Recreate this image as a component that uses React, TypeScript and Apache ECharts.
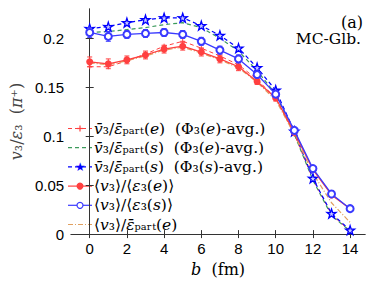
import React, { useEffect, useRef } from "react";
import * as echarts from "echarts";

const bValues = [0, 1, 2, 3, 4, 5, 6, 7, 8, 9, 10, 11, 12, 13, 14];
const xTicks = [0, 2, 4, 6, 8, 10, 12, 14];
const yTicks = [0, 0.05, 0.1, 0.15, 0.2];

const partEPhiE = [0.171, 0.171, 0.177, 0.184, 0.192, 0.197, 0.19, 0.182, 0.173, 0.158, 0.139, 0.102, 0.056, 0.02, 0.003];
const partSPhiE = [0.206, 0.207, 0.209, 0.211, 0.214, 0.216, 0.211, 0.2, 0.187, 0.167, 0.143, 0.102, 0.055, 0.019, 0.003];
const partSPhiS = [0.21, 0.212, 0.216, 0.219, 0.221, 0.221, 0.213, 0.203, 0.19, 0.17, 0.147, 0.105, 0.057, 0.021, 0.004];
const ratioE = [0.176, 0.174, 0.178, 0.183, 0.189, 0.192, 0.186, 0.179, 0.171, 0.156, 0.139, 0.104, 0.066, 0.04, 0.026];
const ratioEErr = [0.005, 0.005, 0.004, 0.004, 0.004, 0.004, 0.004, 0.004, 0.004, 0.003, 0.003, 0.002, 0.002, 0.002, 0.002];
const ratioS = [0.206, 0.202, 0.204, 0.205, 0.206, 0.204, 0.197, 0.188, 0.179, 0.163, 0.143, 0.106, 0.067, 0.041, 0.026];
const ratioSErr = [0.005, 0.005, 0.004, 0.004, 0.004, 0.004, 0.004, 0.004, 0.004, 0.003, 0.003, 0.002, 0.002, 0.002, 0.002];
const meanOverPartE = [0.175, 0.173, 0.177, 0.182, 0.188, 0.191, 0.185, 0.178, 0.17, 0.155, 0.137, 0.102, 0.062, 0.032, 0.012];

const names = [
  "{i|v\u0304}\u2083/{i|\u03b5\u0304}\u209a\u2090\u1d63\u209c({i|e})  (\u03a6\u2083({i|e})-avg.)",
  "{i|v\u0304}\u2083/{i|\u03b5\u0304}\u209a\u2090\u1d63\u209c({i|s})  (\u03a6\u2083({i|e})-avg.)",
  "{i|v\u0304}\u2083/{i|\u03b5\u0304}\u209a\u2090\u1d63\u209c({i|s})  (\u03a6\u2083({i|s})-avg.)",
  "\u27e8{i|v}\u2083\u27e9/\u27e8{i|\u03b5}\u2083({i|e})\u27e9",
  "\u27e8{i|v}\u2083\u27e9/\u27e8{i|\u03b5}\u2083({i|s})\u27e9",
  "\u27e8{i|v}\u2083\u27e9/{i|\u03b5\u0304}\u209a\u2090\u1d63\u209c({i|e})",
];

const RED = "#ff4040";
const GREEN = "#3d9a5c";
const BLUE = "#0000ff";
const BLUE2 = "#3a3aff";
const ORANGE = "#e0a060";
const SERIF = "DejaVu Serif";

const STAR = "path://M50,0 L61.8,35.1 L98.1,34.5 L68.9,56.2 L79.4,90.5 L50,70 L20.6,90.5 L31.1,56.2 L1.9,34.5 L38.2,35.1 Z";
const PLUS = "path://M0,50 L100,50 M50,0 L50,100";

function pairs(vals: number[]) {
  return bValues.map((b, i) => [b, vals[i]]);
}
function triples(vals: number[], errs: number[]) {
  return bValues.map((b, i) => [b, vals[i], errs[i]]);
}

function errorBars(color: string) {
  return (params: any, api: any) => {
    const x = api.value(0);
    const y = api.value(1);
    const e = api.value(2);
    const top = api.coord([x, y + e]);
    const bot = api.coord([x, y - e]);
    const w = 2.5;
    const style = { stroke: color, lineWidth: 1 };
    return {
      type: "group",
      children: [
        { type: "line", shape: { x1: top[0], y1: top[1], x2: bot[0], y2: bot[1] }, style },
        { type: "line", shape: { x1: top[0] - w, y1: top[1], x2: top[0] + w, y2: top[1] }, style },
        { type: "line", shape: { x1: bot[0] - w, y1: bot[1], x2: bot[0] + w, y2: bot[1] }, style },
      ],
    };
  };
}

const LEG_FS = 15.5;
const richI = { i: { fontStyle: "italic", fontFamily: SERIF, fontSize: LEG_FS, fill: "#000" } };

function legendRow(i: number, color: string, dash: any, marker: string) {
  const y = 128.5 + 19.2 * i;
  const x0 = 68;
  const x1 = 92;
  const cx = 80;
  const children: any[] = [
    { type: "line", shape: { x1: x0, y1: y, x2: x1, y2: y }, style: { stroke: color, lineWidth: 1.2, lineDash: dash } },
  ];
  if (marker === "plus") {
    children.push({ type: "line", shape: { x1: cx - 3, y1: y, x2: cx + 3, y2: y }, style: { stroke: color, lineWidth: 1.2 } });
    children.push({ type: "line", shape: { x1: cx, y1: y - 3, x2: cx, y2: y + 3 }, style: { stroke: color, lineWidth: 1.2 } });
  } else if (marker === "star") {
    children.push({
      type: "text",
      x: cx,
      y: y + 0.5,
      style: { text: "\u2605", fill: color, fontSize: 12, fontFamily: "DejaVu Sans", align: "center", verticalAlign: "middle" },
    });
  } else if (marker === "dot") {
    children.push({ type: "circle", shape: { cx, cy: y, r: 3.5 }, style: { fill: color } });
  } else if (marker === "ring") {
    children.push({ type: "circle", shape: { cx, cy: y, r: 3 }, style: { fill: "#fff", stroke: color, lineWidth: 1.2 } });
  }
  children.push({
    type: "text",
    x: 94,
    y: y,
    style: {
      text: names[i],
      fontFamily: SERIF,
      fontSize: LEG_FS,
      fill: "#000",
      verticalAlign: "middle",
      rich: richI,
    },
  });
  return { type: "group", children };
}

export default function App() {
  const ref = useRef<HTMLDivElement>(null);
  useEffect(() => {
    if (!ref.current) return;
    const chart = echarts.init(ref.current, null, { renderer: "svg" });
    const axisLine = { show: true, lineStyle: { color: "#333", width: 1 } };
    const tickFont = { fontFamily: "Liberation Sans", fontSize: 15, color: "#000" };
    chart.setOption({
      animation: false,
      backgroundColor: "#fff",
      grid: { left: 60, right: 9, top: 9, bottom: 43 },
      xAxis: [
        {
          type: "value",
          min: -1,
          max: 14.8,
          position: "bottom",
          axisLine,
          splitLine: { show: false },
          axisTick: { inside: true, length: 4, customValues: xTicks, lineStyle: { color: "#333" } },
          axisLabel: { customValues: xTicks, margin: 7, ...tickFont },
          name: "{i|b}  (fm)",
          nameLocation: "middle",
          nameGap: 22,
          nameTextStyle: {
            fontFamily: SERIF,
            fontSize: 16,
            fontWeight: "normal",
            color: "#000",
            rich: { i: { fontStyle: "italic", fontFamily: SERIF, fontSize: 16, color: "#000" } },
          },
        },
        {
          type: "value",
          min: -1,
          max: 14.8,
          position: "top",
          axisLine,
          splitLine: { show: false },
          axisTick: { inside: true, length: 4, customValues: xTicks, lineStyle: { color: "#333" } },
          axisLabel: { show: false },
        },
      ],
      yAxis: [
        {
          type: "value",
          min: 0,
          max: 0.23,
          position: "left",
          axisLine,
          splitLine: { show: false },
          axisTick: { inside: true, length: 4, customValues: yTicks, lineStyle: { color: "#333" } },
          axisLabel: { customValues: yTicks, margin: 7, ...tickFont },
          name: "{i|v}\u2083/{i|\u03b5}\u2083  ({i|\u03c0}\u207a)",
          nameLocation: "middle",
          nameGap: 38,
          nameTextStyle: {
            fontFamily: SERIF,
            fontSize: 16,
            color: "#444",
            rich: { i: { fontStyle: "italic", fontFamily: SERIF, fontSize: 16, color: "#444" } },
          },
        },
        {
          type: "value",
          min: 0,
          max: 0.23,
          position: "right",
          axisLine,
          splitLine: { show: false },
          axisTick: { inside: true, length: 4, customValues: yTicks, lineStyle: { color: "#333" } },
          axisLabel: { show: false },
        },
      ],
      series: [
        {
          name: "partEPhiE",
          type: "line",
          data: pairs(partEPhiE),
          symbol: PLUS,
          symbolSize: 5,
          itemStyle: { color: RED, borderColor: RED, borderWidth: 1 },
          lineStyle: { color: RED, width: 1, type: [4, 3] },
          z: 2,
        },
        {
          name: "partSPhiE",
          type: "line",
          data: pairs(partSPhiE),
          symbol: "none",
          lineStyle: { color: GREEN, width: 1.2, type: [4, 3] },
          z: 2,
        },
        {
          name: "partSPhiS",
          type: "line",
          data: pairs(partSPhiS),
          symbol: STAR,
          symbolSize: 9,
          itemStyle: { color: "#c8c8ff", borderColor: BLUE, borderWidth: 1.3 },
          lineStyle: { color: BLUE, width: 1.2, type: [4, 3] },
          z: 3,
        },
        {
          name: "ratioE",
          type: "line",
          data: pairs(ratioE),
          symbol: "circle",
          symbolSize: 7,
          itemStyle: { color: RED, borderColor: RED, borderWidth: 0 },
          lineStyle: { color: RED, width: 1.3 },
          z: 4,
        },
        {
          name: "ratioS",
          type: "line",
          data: pairs(ratioS),
          symbol: "emptyCircle",
          symbolSize: 7,
          itemStyle: { color: BLUE2, borderColor: BLUE2, borderWidth: 1.3 },
          lineStyle: { color: BLUE2, width: 1.3 },
          z: 5,
        },
        {
          name: "meanOverPartE",
          type: "line",
          data: pairs(meanOverPartE),
          symbol: "none",
          lineStyle: { color: ORANGE, width: 1.2, type: [5, 2, 1, 2] },
          z: 3,
        },
        {
          type: "custom",
          data: triples(ratioE, ratioEErr),
          renderItem: errorBars(RED),
          encode: { x: 0, y: 1 },
          z: 4,
        },
        {
          type: "custom",
          data: triples(ratioS, ratioSErr),
          renderItem: errorBars(BLUE2),
          encode: { x: 0, y: 1 },
          z: 5,
        },
      ],
      graphic: [
        legendRow(0, RED, [4, 3], "plus"),
        legendRow(1, GREEN, [4, 3], "none"),
        legendRow(2, BLUE, [4, 3], "star"),
        legendRow(3, RED, null, "dot"),
        legendRow(4, BLUE2, null, "ring"),
        legendRow(5, ORANGE, [5, 2, 1, 2], "none"),
        {
          type: "text",
          x: 363,
          y: 22,
          style: { text: "(a)", fontFamily: SERIF, fontSize: 16, fill: "#000", align: "right", verticalAlign: "middle" },
        },
        {
          type: "text",
          x: 361,
          y: 39,
          style: { text: "MC-Glb.", fontFamily: SERIF, fontSize: 15.5, fill: "#000", align: "right", verticalAlign: "middle" },
        },
      ],
    });
    return () => chart.dispose();
  }, []);
  return <div ref={ref} style={{ width: 374, height: 282, position: "absolute", left: 0, top: 0 }} />;
}
